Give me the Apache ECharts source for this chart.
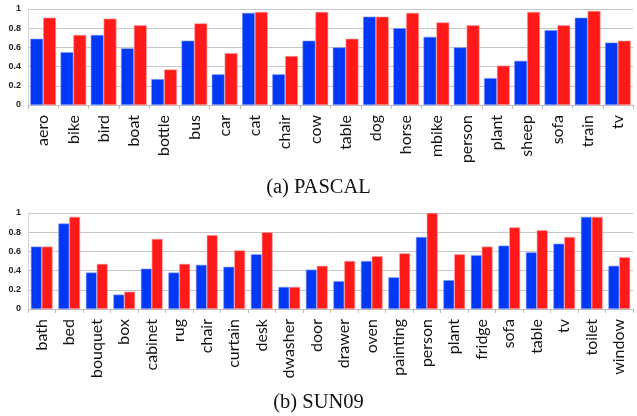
<!DOCTYPE html>
<html>
<head>
<meta charset="utf-8">
<script src="https://cdn.jsdelivr.net/npm/echarts@6/dist/echarts.min.js"></script>
<style>
  html, body { margin: 0; padding: 0; background: #fff; }
  #chart { width: 637px; height: 416px; }
</style>
</head>
<body>
<div id="chart"></div>
<script>
// PASCAL categories and per-class scores (blue = baseline, red = ours)
const pascalCats = ['aero','bike','bird','boat','bottle','bus','car','cat','chair','cow',
  'table','dog','horse','mbike','person','plant','sheep','sofa','train','tv'];
const pascalBlue = [0.69,0.55,0.73,0.59,0.27,0.67,0.32,0.96,0.32,0.67,
  0.60,0.92,0.80,0.71,0.60,0.28,0.46,0.78,0.91,0.65];
const pascalRed  = [0.91,0.73,0.90,0.83,0.37,0.85,0.54,0.97,0.51,0.97,
  0.69,0.92,0.96,0.86,0.83,0.41,0.97,0.83,0.98,0.67];

// SUN09 categories and per-class scores
const sunCats = ['bath','bed','bouquet','box','cabinet','rug','chair','curtain','desk','dwasher','door',
  'drawer','oven','painting','person','plant','fridge','sofa','table','tv','toilet','window'];
const sunBlue = [0.65,0.89,0.38,0.15,0.42,0.38,0.46,0.44,0.57,0.23,0.41,
  0.29,0.50,0.33,0.75,0.30,0.56,0.66,0.59,0.68,0.96,0.45];
const sunRed  = [0.65,0.96,0.47,0.18,0.73,0.47,0.77,0.61,0.80,0.23,0.45,
  0.50,0.55,0.58,1.00,0.57,0.65,0.85,0.82,0.75,0.96,0.54];

const yTicks = { min: 0, max: 1, interval: 0.2 };
const captions = ['(a) PASCAL', '(b) SUN09'];

const BLUE = '#0038f6';
const RED = '#ff1a1a';

const chart = echarts.init(document.getElementById('chart'), null, { renderer: 'canvas' });

function xAxisFor(cats, gridIndex) {
  return {
    type: 'category', gridIndex, data: cats,
    axisLine: { show: true, lineStyle: { color: '#bdbdbd', width: 1 } },
    axisTick: { show: true, length: 4, lineStyle: { color: '#bdbdbd' } },
    axisLabel: {
      rotate: 90, margin: 10, interval: 0,
      fontFamily: 'Lato', fontSize: 16, color: '#111'
    }
  };
}
function yAxisFor(gridIndex) {
  return {
    type: 'value', gridIndex, min: yTicks.min, max: yTicks.max, interval: yTicks.interval,
    axisLine: { show: true, lineStyle: { color: '#d4d4d4' } },
    axisTick: { show: false },
    splitLine: { show: true, lineStyle: { color: '#c6c6c6', width: 1 } },
    axisLabel: {
      margin: 7, fontFamily: 'Liberation Sans', fontWeight: 'bold', fontSize: 9, color: '#222'
    }
  };
}
function barSeries(data, color, idx, border) {
  return {
    type: 'bar', xAxisIndex: idx, yAxisIndex: idx, data,
    barGap: '0%', barCategoryGap: idx === 0 ? '15%' : '21%',
    itemStyle: { color, borderColor: border, borderWidth: 0.6 },
    emphasis: { disabled: true },
    animation: false
  };
}

chart.setOption({
  animation: false,
  grid: [
    { left: 28, top: 9, width: 605, height: 96 },
    { left: 28, top: 213, width: 605, height: 96 }
  ],
  xAxis: [xAxisFor(pascalCats, 0), xAxisFor(sunCats, 1)],
  yAxis: [yAxisFor(0), yAxisFor(1)],
  series: [
    barSeries(pascalBlue, BLUE, 0, '#7f99ff'),
    barSeries(pascalRed, RED, 0, '#ff9a9a'),
    barSeries(sunBlue, BLUE, 1, '#7f99ff'),
    barSeries(sunRed, RED, 1, '#ff9a9a')
  ],
  graphic: [
    { type: 'text', left: 'center', top: 177,
      style: { text: captions[0], font: '20.5px "Liberation Serif"', fill: '#111' } },
    { type: 'text', left: 'center', top: 392,
      style: { text: captions[1], font: '20.5px "Liberation Serif"', fill: '#111' } }
  ]
});
</script>
</body>
</html>
